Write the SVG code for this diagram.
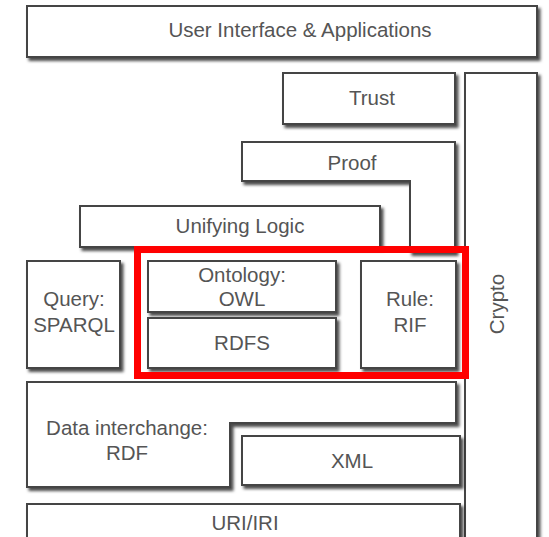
<svg xmlns="http://www.w3.org/2000/svg" width="549" height="537" viewBox="0 0 549 537">
  <defs>
    <filter id="shadow" x="-10%" y="-10%" width="125%" height="130%">
      <feDropShadow dx="2.5" dy="3" stdDeviation="1.6" flood-color="#000" flood-opacity="0.7"/>
    </filter>
  </defs>
  <style>
    .box { fill: #fff; stroke: #444; stroke-width: 2; filter: url(#shadow); }
    .lbl { font-family: "Liberation Sans", Arial, sans-serif; font-size: 20.5px; fill: #555; text-anchor: middle; }
    .hl { fill: none; stroke: #ff0000; stroke-width: 7; }
  </style>
  <rect width="549" height="537" fill="#fff"/>

  <g id="crypto">
    <rect class="box" x="465" y="73" width="72" height="470"/>
    <text class="lbl" transform="translate(504 304) rotate(-90)">Crypto</text>
  </g>

  <g id="ui">
    <rect class="box" x="27" y="6" width="510" height="51"/>
    <text class="lbl" x="300" y="37">User Interface &amp; Applications</text>
  </g>

  <g id="trust">
    <rect class="box" x="283" y="73" width="172" height="51"/>
    <text class="lbl" x="372" y="105">Trust</text>
  </g>

  <g id="proof">
    <polygon class="box" points="242,142 455,142 455,252 410,252 410,181 242,181"/>
    <text class="lbl" x="352" y="170">Proof</text>
  </g>

  <g id="unifying-logic">
    <rect class="box" x="80" y="206" width="300" height="41"/>
    <text class="lbl" x="240" y="233">Unifying Logic</text>
  </g>

  <g id="query">
    <rect class="box" x="27" y="261" width="93" height="107"/>
    <text class="lbl" x="74" y="306">Query:</text>
    <text class="lbl" x="74" y="332">SPARQL</text>
  </g>

  <g id="ontology">
    <rect class="box" x="148" y="261" width="188" height="51"/>
    <text class="lbl" x="242" y="282">Ontology:</text>
    <text class="lbl" x="242" y="306">OWL</text>
  </g>

  <g id="rdfs">
    <rect class="box" x="148" y="318" width="188" height="50"/>
    <text class="lbl" x="242" y="350">RDFS</text>
  </g>

  <g id="rule">
    <rect class="box" x="361" y="261" width="95" height="107"/>
    <text class="lbl" x="410" y="306">Rule:</text>
    <text class="lbl" x="410" y="332">RIF</text>
  </g>

  <g id="data-interchange">
    <polygon class="box" points="27,382 456,382 456,423 230,423 230,487 27,487"/>
    <text class="lbl" x="127" y="435">Data interchange:</text>
    <text class="lbl" x="127" y="460">RDF</text>
  </g>

  <g id="xml">
    <rect class="box" x="242" y="436" width="218" height="49"/>
    <text class="lbl" x="352" y="468">XML</text>
  </g>

  <g id="uri">
    <rect class="box" x="27" y="504" width="433" height="40"/>
    <text class="lbl" x="245" y="530">URI/IRI</text>
  </g>

  <g id="highlight">
    <rect class="hl" x="137.5" y="249.5" width="328" height="126"/>
  </g>

  <g id="connectors"/>
</svg>
